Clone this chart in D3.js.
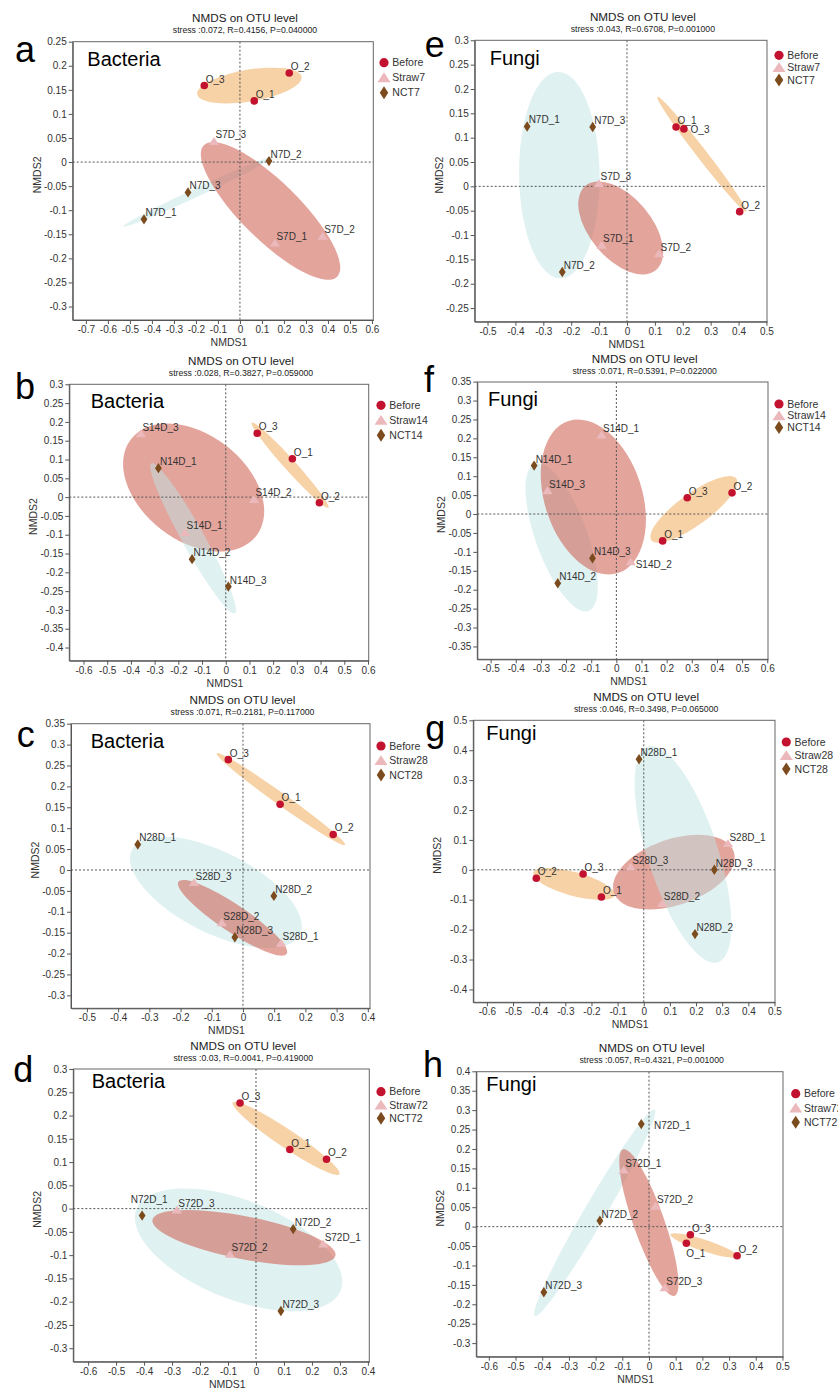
<!DOCTYPE html>
<html>
<head>
<meta charset="utf-8">
<script src="https://cdn.jsdelivr.net/npm/d3@7"></script>
<style>
  body { margin: 0; background: #fff; }
  text { font-family: "Liberation Sans", Arial, Helvetica, sans-serif; }
</style>
</head>
<body>
<div id="chart-area"></div>
<script>
// NMDS on OTU level, 8 panels (a-d bacteria, e-h fungi)

// ---- data: sample scores [name, NMDS1, NMDS2] ----
var pointsA = [["O_1", 0.065, 0.127], ["O_2", 0.224, 0.185], ["O_3", -0.162, 0.159],
  ["S7D_1", 0.159, -0.168], ["S7D_2", 0.376, -0.154], ["S7D_3", -0.118, 0.043],
  ["N7D_1", -0.436, -0.119], ["N7D_2", 0.132, 0.002], ["N7D_3", -0.236, -0.063]];
var pointsE = [["O_1", 0.176, 0.122], ["O_2", 0.404, -0.052], ["O_3", 0.204, 0.118],
  ["S7D_1", -0.091, -0.121], ["S7D_2", 0.115, -0.138], ["S7D_3", -0.100, 0.006],
  ["N7D_1", -0.358, 0.123], ["N7D_2", -0.232, -0.176], ["N7D_3", -0.123, 0.122]];
var pointsB = [["O_1", 0.281, 0.102], ["O_2", 0.395, -0.015], ["O_3", 0.133, 0.170],
  ["S14D_1", -0.172, -0.094], ["S14D_2", 0.119, -0.006], ["S14D_3", -0.358, 0.169],
  ["N14D_1", -0.284, 0.077], ["N14D_2", -0.142, -0.165], ["N14D_3", 0.011, -0.238]];
var pointsF = [["O_1", 0.184, -0.071], ["O_2", 0.460, 0.056], ["O_3", 0.282, 0.043],
  ["S14D_1", -0.059, 0.209], ["S14D_2", 0.057, -0.126], ["S14D_3", -0.274, 0.062],
  ["N14D_1", -0.327, 0.128], ["N14D_2", -0.233, -0.183], ["N14D_3", -0.095, -0.117]];
var pointsC = [["O_1", 0.119, 0.157], ["O_2", 0.289, 0.085], ["O_3", -0.047, 0.264],
  ["S28D_1", 0.122, -0.175], ["S28D_2", -0.068, -0.126], ["S28D_3", -0.157, -0.030],
  ["N28D_1", -0.337, 0.061], ["N28D_2", 0.099, -0.062], ["N28D_3", -0.026, -0.161]];
var pointsG = [["O_1", -0.162, -0.091], ["O_2", -0.411, -0.028], ["O_3", -0.232, -0.014],
  ["S28D_1", 0.322, 0.088], ["S28D_2", 0.071, -0.112], ["S28D_3", -0.050, 0.010],
  ["N28D_1", -0.018, 0.370], ["N28D_2", 0.196, -0.215], ["N28D_3", 0.270, 0.000]];
var pointsD = [["O_1", 0.121, 0.127], ["O_2", 0.252, 0.106], ["O_3", -0.057, 0.227],
  ["S72D_1", 0.240, -0.076], ["S72D_2", -0.093, -0.098], ["S72D_3", -0.283, -0.003],
  ["N72D_1", -0.407, -0.015], ["N72D_2", 0.133, -0.044], ["N72D_3", 0.089, -0.220]];
var pointsH = [["O_1", 0.140, -0.043], ["O_2", 0.330, -0.075], ["O_3", 0.155, -0.021],
  ["S72D_1", -0.095, 0.146], ["S72D_2", 0.024, 0.053], ["S72D_3", 0.059, -0.157],
  ["N72D_1", -0.029, 0.264], ["N72D_2", -0.184, 0.015], ["N72D_3", -0.394, -0.169]];

// group ellipses: major axis tips (x1, y1, x2, y2) and minor/major ratio; order Before, Straw, NCT
var ellipsesA = [[-0.194, 0.141, 0.280, 0.177, 0.30], [-0.164, 0.035, 0.442, -0.238, 0.31], [-0.530, -0.134, 0.152, 0.011, 0.05]];
var ellipsesE = [[0.109, 0.184, 0.428, -0.052, 0.07], [-0.149, 0.001, 0.104, -0.172, 0.56], [-0.247, 0.235, -0.238, -0.189, 0.39]];
var ellipsesB = [[0.110, 0.198, 0.433, -0.028, 0.10], [-0.400, 0.154, 0.129, -0.103, 0.67], [-0.314, 0.090, 0.039, -0.309, 0.13]];
var ellipsesF = [[0.139, -0.069, 0.477, 0.094, 0.30], [-0.190, 0.246, 0.007, -0.156, 0.61], [-0.324, 0.133, -0.111, -0.256, 0.33]];
var ellipsesC = [[-0.084, 0.279, 0.327, 0.060, 0.075], [-0.207, -0.028, 0.140, -0.201, 0.21], [-0.356, 0.048, 0.182, -0.155, 0.43]];
var ellipsesG = [[-0.423, -0.010, -0.111, -0.085, 0.28], [-0.114, -0.077, 0.344, 0.061, 0.52], [0.016, 0.412, 0.284, -0.309, 0.31]];
var ellipsesD = [[-0.083, 0.228, 0.298, 0.074, 0.14], [-0.370, -0.024, 0.284, -0.101, 0.23], [-0.427, -0.001, 0.303, -0.176, 0.45]];
var ellipsesH = [[0.080, -0.020, 0.333, -0.077, 0.16], [-0.097, 0.199, 0.096, -0.178, 0.20], [-0.428, -0.230, 0.021, 0.301, 0.09]];

var stressTexts = {
  a: "stress :0.072, R=0.4156, P=0.040000",
  e: "stress :0.043, R=0.6708, P=0.001000",
  b: "stress :0.028, R=0.3827, P=0.059000",
  f: "stress :0.071, R=0.5391, P=0.022000",
  c: "stress :0.071, R=0.2181, P=0.117000",
  g: "stress :0.046, R=0.3498, P=0.065000",
  d: "stress :0.03, R=0.0041, P=0.419000",
  h: "stress :0.057, R=0.4321, P=0.001000"
};

// tick ranges [first, last, step]
var xTickRanges = { a: [-0.7, 0.6, 0.1], e: [-0.5, 0.5, 0.1], b: [-0.6, 0.6, 0.1], f: [-0.5, 0.6, 0.1],
                    c: [-0.5, 0.4, 0.1], g: [-0.6, 0.5, 0.1], d: [-0.6, 0.4, 0.1], h: [-0.6, 0.5, 0.1] };
var yTickRanges = { a: [-0.3, 0.25, 0.05], e: [-0.25, 0.3, 0.05], b: [-0.4, 0.3, 0.05], f: [-0.35, 0.35, 0.05],
                    c: [-0.3, 0.35, 0.05], g: [-0.4, 0.5, 0.1], d: [-0.3, 0.3, 0.05], h: [-0.3, 0.4, 0.05] };
var xDomains = { a: [-0.760, 0.606], e: [-0.546, 0.502], b: [-0.660, 0.603], f: [-0.553, 0.603],
                 c: [-0.551, 0.407], g: [-0.652, 0.502], d: [-0.653, 0.405], h: [-0.647, 0.502] };
var yDomains = { a: [-0.328, 0.250], e: [-0.278, 0.300], b: [-0.435, 0.300], f: [-0.384, 0.349],
                 c: [-0.331, 0.350], g: [-0.443, 0.500], d: [-0.329, 0.300], h: [-0.335, 0.399] };

// ---- layout ----
var panels = [
  { id: "a", kingdom: "Bacteria", day: "7",  pts: pointsA, ell: ellipsesA, box: [72.7, 41.7, 373.3, 320],
    letter: [15, 62], king: [87.3, 66], legend: [384, 62.7, 15] },
  { id: "b", kingdom: "Bacteria", day: "14", pts: pointsB, ell: ellipsesB, box: [69.3, 384.3, 368.7, 660.7],
    letter: [15, 399.3], king: [90.7, 408.3], legend: [381, 405.3, 15], cyanTop: true },
  { id: "c", kingdom: "Bacteria", day: "28", pts: pointsC, ell: ellipsesC, box: [71, 723.7, 370, 1008.3],
    letter: [16.7, 746.7], king: [90.7, 748.3], legend: [381, 746, 14.5] },
  { id: "d", kingdom: "Bacteria", day: "72", pts: pointsD, ell: ellipsesD, box: [73.3, 1069, 369.3, 1361.7],
    letter: [13.3, 1081.7], king: [91.7, 1088.3], legend: [381, 1091.7, 13.3] },
  { id: "e", kingdom: "Fungi", day: "7",  pts: pointsE, ell: ellipsesE, box: [474.7, 40.3, 767, 321.7],
    letter: [424.7, 56.7], king: [489.7, 65], legend: [779, 55.3, 12.3] },
  { id: "f", kingdom: "Fungi", day: "14", pts: pointsF, ell: ellipsesF, box: [477.3, 382, 768, 659.3],
    letter: [424, 392.3], king: [488, 405.7], legend: [779, 404, 11.8] },
  { id: "g", kingdom: "Fungi", day: "28", pts: pointsG, ell: ellipsesG, box: [473.3, 720.3, 775, 1002.3],
    letter: [425.3, 741], king: [486.3, 740], legend: [786.3, 742, 13.5], cyanTop: true },
  { id: "h", kingdom: "Fungi", day: "72", pts: pointsH, ell: ellipsesH, box: [476.3, 1071.7, 783, 1356.7],
    letter: [423, 1076.7], king: [486.3, 1091], legend: [795.7, 1093.7, 14.3] }
];

// label nudges (pixels) where the label is not up-right of the point
var nudges = { "e:O_3": [6.7, 4], "f:S14D_2": [5, 6.3], "d:N72D_1": [-11.3, -13],
               "h:N72D_1": [12.7, 4.7], "h:O_1": [0, 14] };

var pointColor = { Before: "#c3122f", Straw: "#ebb8bc", NCT: "#7b4a1d" };
var ellipseColor = { Before: "rgb(239,165,77)", Straw: "rgb(204,90,75)", NCT: "rgb(191,227,227)" };
var ellipseOpacity = { Before: 0.5, Straw: 0.55, NCT: 0.5 };
var groups = ["Before", "Straw", "NCT"];

function groupOf(name) {
  return name[0] === "O" ? "Before" : (name[0] === "S" ? "Straw" : "NCT");
}
function fmt(d) { return String(Math.round(d * 100) / 100); }
function tickList(r) {
  var n = Math.round((r[1] - r[0]) / r[2]);
  return d3.range(n + 1).map(function(i){ return Math.round((r[0] + i * r[2]) * 1000) / 1000; });
}
function markerPath(group, s) {
  if (group === "Before") return null;
  if (group === "Straw") return "M0," + (-4.3 * s) + "L" + (5.2 * s) + "," + (3.6 * s) + "L" + (-5.2 * s) + "," + (3.6 * s) + "Z";
  return "M0," + (-5.2 * s) + "L" + (3.4 * s) + ",0L0," + (5.2 * s) + "L" + (-3.4 * s) + ",0Z";
}

var svg = d3.select("#chart-area").append("svg")
    .attr("width", 838)
    .attr("height", 1389);

panels.forEach(function(p) {
  var L = p.box[0], T = p.box[1], R = p.box[2], B = p.box[3];
  var x = d3.scaleLinear().domain(xDomains[p.id]).range([L, R]);
  var y = d3.scaleLinear().domain(yDomains[p.id]).range([B, T]);
  var g = svg.append("g").attr("class", "panel-" + p.id);

  // clip
  g.append("clipPath").attr("id", "clip-" + p.id)
    .append("rect").attr("x", L).attr("y", T).attr("width", R - L).attr("height", B - T);

  // ellipses
  var order = p.cyanTop ? [0, 1, 2] : [0, 2, 1];
  var eg = g.append("g").attr("clip-path", "url(#clip-" + p.id + ")");
  order.forEach(function(i) {
    var e = p.ell[i];
    var x1 = x(e[0]), y1 = y(e[1]), x2 = x(e[2]), y2 = y(e[3]);
    var cx = (x1 + x2) / 2, cy = (y1 + y2) / 2;
    var a = Math.hypot(x2 - cx, y2 - cy);
    var ang = Math.atan2(y2 - cy, x2 - cx) * 180 / Math.PI;
    eg.append("ellipse")
      .attr("cx", 0).attr("cy", 0)
      .attr("rx", a).attr("ry", a * e[4])
      .attr("transform", "translate(" + cx + "," + cy + ") rotate(" + ang + ")")
      .attr("fill", ellipseColor[groups[i]])
      .attr("fill-opacity", ellipseOpacity[groups[i]]);
  });

  // zero lines
  g.append("line").attr("x1", L).attr("x2", R).attr("y1", y(0)).attr("y2", y(0))
    .attr("stroke", "#555").attr("stroke-width", 1).attr("stroke-dasharray", "2,2");
  g.append("line").attr("y1", T).attr("y2", B).attr("x1", x(0)).attr("x2", x(0))
    .attr("stroke", "#555").attr("stroke-width", 1).attr("stroke-dasharray", "2,2");

  // frame
  g.append("rect").attr("x", L).attr("y", T).attr("width", R - L).attr("height", B - T)
    .attr("fill", "none").attr("stroke", "#666").attr("stroke-width", 1);

  // axes
  var xAxis = d3.axisBottom(x).tickValues(tickList(xTickRanges[p.id])).tickFormat(fmt)
    .tickSize(4).tickSizeOuter(0).tickPadding(2);
  var yAxis = d3.axisLeft(y).tickValues(tickList(yTickRanges[p.id])).tickFormat(fmt)
    .tickSize(4).tickSizeOuter(0).tickPadding(2);
  var xa = g.append("g").attr("transform", "translate(0," + B + ")").call(xAxis);
  var ya = g.append("g").attr("transform", "translate(" + L + ",0)").call(yAxis);
  [xa, ya].forEach(function(ax) {
    ax.select(".domain").attr("stroke", "#555");
    ax.selectAll(".tick line").attr("stroke", "#555");
    ax.selectAll(".tick text").attr("fill", "#333").attr("font-size", "10px")
      .attr("font-family", "Liberation Sans, Arial, sans-serif");
  });

  // axis titles
  g.append("text").attr("x", (L + R) / 2 + 6).attr("y", B + 26)
    .attr("text-anchor", "middle").attr("font-size", "10.5px").attr("fill", "#333").text("NMDS1");
  g.append("text")
    .attr("transform", "translate(" + (L - 32) + "," + ((T + B) / 2 - 6) + ") rotate(-90)")
    .attr("text-anchor", "middle").attr("font-size", "10.5px").attr("fill", "#333").text("NMDS2");

  // chart title
  g.append("text").attr("x", (L + R) / 2 + 22).attr("y", T - 19.5)
    .attr("text-anchor", "middle").attr("font-size", "11.7px").attr("fill", "#222").text("NMDS on OTU level");
  g.append("text").attr("x", (L + R) / 2 + 22).attr("y", T - 8.5)
    .attr("text-anchor", "middle").attr("font-size", "8.7px").attr("fill", "#222")
    .text(stressTexts[p.id]);

  // panel letter and kingdom
  g.append("text").attr("x", p.letter[0]).attr("y", p.letter[1])
    .attr("font-size", "36px").attr("fill", "#000").text(p.id);
  g.append("text").attr("x", p.king[0]).attr("y", p.king[1])
    .attr("font-size", "20px").attr("fill", "#000").text(p.kingdom);

  // points
  var pg = g.append("g");
  p.pts.forEach(function(d) {
    var grp = groupOf(d[0]);
    var px = x(d[1]), py = y(d[2]);
    if (grp === "Before") {
      pg.append("circle").attr("cx", px).attr("cy", py).attr("r", 3.8).attr("fill", pointColor[grp]);
    } else {
      pg.append("path").attr("d", markerPath(grp, 1))
        .attr("transform", "translate(" + px + "," + py + ")").attr("fill", pointColor[grp]);
    }
  });
  p.pts.forEach(function(d) {
    var off = nudges[p.id + ":" + d[0]] || [1.5, -3];
    pg.append("text").attr("x", x(d[1]) + off[0]).attr("y", y(d[2]) + off[1])
      .attr("font-size", "10px").attr("fill", "#333").text(d[0]);
  });

  // legend
  var lg = g.append("g");
  var names = ["Before", "Straw" + p.day, "NCT" + p.day];
  groups.forEach(function(grp, i) {
    var lx = p.legend[0], ly = p.legend[1] + i * p.legend[2];
    if (grp === "Before") {
      lg.append("circle").attr("cx", lx).attr("cy", ly).attr("r", 4.6).attr("fill", pointColor[grp]);
    } else {
      lg.append("path").attr("d", markerPath(grp, 1.25))
        .attr("transform", "translate(" + lx + "," + ly + ")").attr("fill", pointColor[grp]);
    }
    lg.append("text").attr("x", lx + 8.3).attr("y", ly).attr("dy", "0.35em")
      .attr("font-size", "10.5px").attr("fill", "#333").text(names[i]);
  });
});
</script>
</body>
</html>
